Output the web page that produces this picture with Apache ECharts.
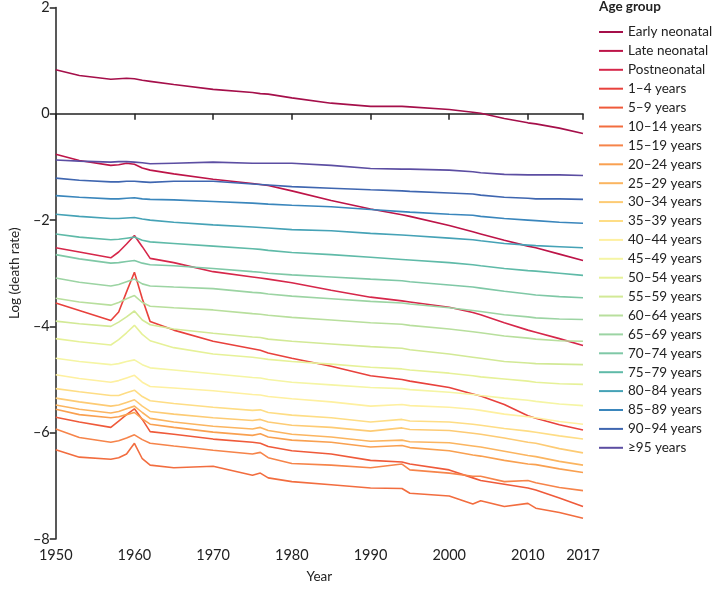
<!DOCTYPE html>
<html><head><meta charset="utf-8">
<script src="https://cdn.jsdelivr.net/npm/echarts@6/dist/echarts.min.js"></script>
<style>html,body{margin:0;padding:0;background:#fff}#c{width:714px;height:589px}</style>
</head><body><div id="c"></div>
<script>
const years = [1950,1953,1957,1958,1959,1960,1961,1962,1965,1970,1975,1976,1977,1980,1985,1990,1994,1995,2000,2003,2004,2007,2010,2011,2014,2017];
const xTickLabels = [1950,1960,1970,1980,1990,2000,2010,2017];
const yTicks = [-8,-6,-4,-2,0,2];
const ageGroups = ["Early neonatal","Late neonatal","Postneonatal","1–4 years","5–9 years","10–14 years","15–19 years","20–24 years","25–29 years","30–34 years","35–39 years","40–44 years","45–49 years","50–54 years","55–59 years","60–64 years","65–69 years","70–74 years","75–79 years","80–84 years","85–89 years","90–94 years","≥95 years"];
const colors = ["#a50f4a","#bd1448","#d6274a","#e8413c","#ef5a3a","#f26d3f","#f6844a","#f9a050","#fbb560","#fdcb74","#fedd85","#fef0a0","#f5f5a4","#e6f198","#d2e996","#b8df9d","#9cd4a3","#7fc8a6","#5fbaa8","#45a2b6","#3a86bc","#3f66b0","#5c4ea2"];

const earlyNeonatal = [0.83,0.72,0.65,0.66,0.67,0.66,0.63,0.61,0.55,0.46,0.40,0.38,0.37,0.30,0.20,0.14,0.14,0.13,0.08,0.03,0.01,-0.09,-0.17,-0.19,-0.27,-0.37];
const lateNeonatal = [-0.76,-0.88,-0.97,-0.96,-0.93,-0.95,-1.02,-1.06,-1.13,-1.23,-1.31,-1.33,-1.35,-1.45,-1.63,-1.79,-1.90,-1.93,-2.10,-2.22,-2.26,-2.38,-2.49,-2.52,-2.64,-2.76];
const postneonatal = [-2.52,-2.6,-2.71,-2.6,-2.45,-2.29,-2.5,-2.72,-2.8,-2.97,-3.07,-3.09,-3.11,-3.18,-3.32,-3.45,-3.52,-3.54,-3.64,-3.74,-3.78,-3.93,-4.07,-4.11,-4.23,-4.36];
const age1to4 = [-3.56,-3.7,-3.89,-3.73,-3.35,-2.98,-3.48,-3.91,-4.07,-4.28,-4.42,-4.45,-4.5,-4.6,-4.75,-4.93,-5.0,-5.03,-5.15,-5.27,-5.31,-5.47,-5.68,-5.73,-5.85,-5.95];
const age5to9 = [-5.71,-5.8,-5.9,-5.78,-5.66,-5.55,-5.75,-5.98,-6.03,-6.12,-6.18,-6.2,-6.26,-6.34,-6.4,-6.52,-6.55,-6.59,-6.7,-6.85,-6.9,-6.97,-7.04,-7.08,-7.23,-7.39];
const age10to14 = [-6.32,-6.46,-6.5,-6.47,-6.4,-6.2,-6.49,-6.61,-6.66,-6.63,-6.8,-6.76,-6.85,-6.92,-6.98,-7.04,-7.05,-7.14,-7.19,-7.34,-7.28,-7.39,-7.33,-7.42,-7.5,-7.61];
const age15to19 = [-5.93,-6.09,-6.18,-6.15,-6.1,-6.04,-6.13,-6.2,-6.25,-6.33,-6.4,-6.37,-6.47,-6.58,-6.61,-6.66,-6.59,-6.7,-6.76,-6.82,-6.82,-6.92,-6.9,-6.94,-7.03,-7.09];
const age20to24 = [-5.56,-5.66,-5.72,-5.7,-5.66,-5.62,-5.74,-5.84,-5.9,-5.99,-6.05,-6.02,-6.08,-6.14,-6.18,-6.27,-6.24,-6.28,-6.34,-6.42,-6.44,-6.52,-6.59,-6.6,-6.68,-6.75];
const age25to29 = [-5.48,-5.56,-5.63,-5.6,-5.55,-5.5,-5.62,-5.73,-5.8,-5.88,-5.93,-5.9,-5.96,-6.03,-6.08,-6.16,-6.14,-6.17,-6.19,-6.25,-6.27,-6.35,-6.43,-6.45,-6.54,-6.61];
const age30to34 = [-5.35,-5.42,-5.5,-5.48,-5.43,-5.38,-5.5,-5.6,-5.65,-5.72,-5.77,-5.75,-5.8,-5.86,-5.9,-5.97,-5.91,-5.94,-5.96,-6.01,-6.03,-6.1,-6.18,-6.2,-6.3,-6.38];
const age35to39 = [-5.17,-5.23,-5.3,-5.3,-5.25,-5.2,-5.32,-5.4,-5.45,-5.52,-5.58,-5.57,-5.62,-5.67,-5.72,-5.8,-5.75,-5.78,-5.8,-5.84,-5.86,-5.92,-5.97,-5.99,-6.06,-6.12];
const age40to44 = [-4.91,-4.98,-5.05,-5.02,-4.97,-4.92,-5.05,-5.13,-5.16,-5.21,-5.28,-5.29,-5.32,-5.36,-5.42,-5.5,-5.47,-5.49,-5.52,-5.56,-5.58,-5.65,-5.7,-5.72,-5.79,-5.84];
const age45to49 = [-4.6,-4.66,-4.72,-4.7,-4.66,-4.63,-4.72,-4.78,-4.82,-4.89,-4.96,-4.97,-5.0,-5.05,-5.1,-5.15,-5.17,-5.19,-5.24,-5.28,-5.3,-5.35,-5.39,-5.41,-5.46,-5.49];
const age50to54 = [-4.23,-4.29,-4.35,-4.25,-4.12,-3.98,-4.15,-4.27,-4.4,-4.52,-4.58,-4.6,-4.62,-4.66,-4.71,-4.77,-4.8,-4.82,-4.88,-4.93,-4.95,-4.99,-5.03,-5.05,-5.08,-5.09];
const age55to59 = [-3.9,-3.95,-4.0,-3.92,-3.82,-3.71,-3.88,-3.97,-4.05,-4.13,-4.2,-4.21,-4.24,-4.28,-4.33,-4.38,-4.41,-4.44,-4.52,-4.58,-4.6,-4.66,-4.69,-4.7,-4.71,-4.72];
const age60to64 = [-3.47,-3.54,-3.6,-3.55,-3.48,-3.42,-3.55,-3.62,-3.65,-3.69,-3.76,-3.77,-3.79,-3.83,-3.88,-3.93,-3.96,-3.98,-4.05,-4.1,-4.12,-4.18,-4.22,-4.24,-4.27,-4.28];
const age65to69 = [-3.09,-3.17,-3.24,-3.21,-3.16,-3.11,-3.2,-3.24,-3.26,-3.29,-3.36,-3.37,-3.39,-3.43,-3.48,-3.53,-3.56,-3.58,-3.65,-3.7,-3.72,-3.78,-3.82,-3.84,-3.86,-3.87];
const age70to74 = [-2.65,-2.73,-2.81,-2.8,-2.78,-2.76,-2.81,-2.84,-2.86,-2.91,-2.97,-2.98,-3.0,-3.03,-3.07,-3.11,-3.14,-3.16,-3.22,-3.26,-3.28,-3.34,-3.39,-3.41,-3.44,-3.46];
const age75to79 = [-2.26,-2.32,-2.37,-2.36,-2.34,-2.32,-2.38,-2.41,-2.44,-2.49,-2.54,-2.55,-2.57,-2.61,-2.65,-2.7,-2.74,-2.75,-2.8,-2.84,-2.86,-2.91,-2.95,-2.96,-3.0,-3.04];
const age80to84 = [-1.89,-1.93,-1.97,-1.97,-1.96,-1.95,-1.98,-2.0,-2.04,-2.09,-2.13,-2.14,-2.15,-2.18,-2.2,-2.25,-2.28,-2.29,-2.34,-2.37,-2.39,-2.44,-2.47,-2.48,-2.5,-2.52];
const age85to89 = [-1.54,-1.57,-1.6,-1.6,-1.59,-1.58,-1.6,-1.61,-1.62,-1.65,-1.68,-1.69,-1.7,-1.72,-1.75,-1.8,-1.84,-1.85,-1.89,-1.91,-1.93,-1.97,-2.0,-2.01,-2.04,-2.06];
const age90to94 = [-1.21,-1.25,-1.28,-1.28,-1.27,-1.27,-1.28,-1.29,-1.27,-1.27,-1.32,-1.33,-1.34,-1.37,-1.4,-1.43,-1.45,-1.46,-1.49,-1.51,-1.53,-1.57,-1.59,-1.6,-1.6,-1.61];
const age95plus = [-0.87,-0.89,-0.91,-0.9,-0.9,-0.91,-0.92,-0.94,-0.93,-0.91,-0.93,-0.93,-0.93,-0.93,-0.97,-1.03,-1.04,-1.04,-1.06,-1.09,-1.11,-1.14,-1.15,-1.15,-1.15,-1.16];

const seriesValues = [earlyNeonatal,lateNeonatal,postneonatal,age1to4,age5to9,age10to14,age15to19,age20to24,age25to29,age30to34,age35to39,age40to44,age45to49,age50to54,age55to59,age60to64,age65to69,age70to74,age75to79,age80to84,age85to89,age90to94,age95plus];

const FONT = "Lato";
const chart = echarts.init(document.getElementById('c'), null, {renderer:'canvas'});
const dash = v => String(v).replace('-', '–');
chart.setOption({
  animation:false,
  backgroundColor:'#fff',
  textStyle:{fontFamily:FONT},
  title:{text:'Age group', left:599, top:0, padding:0, textStyle:{fontFamily:FONT,fontSize:13.5,fontWeight:'bold',color:'#222'}},
  legend:{
    orient:'vertical', left:599, top:25, padding:0, itemWidth:24, itemHeight:2, itemGap:4.9,
    icon:'rect',
    textStyle:{fontFamily:FONT,fontSize:13.5,color:'#222',lineHeight:14},
    data: ageGroups
  },
  grid:{left:52, right:131, top:5, bottom:46, containLabel:false},
  xAxis:{
    type:'value', min:1950, max:2017, interval:10,
    name:'Year', nameLocation:'middle', nameGap:31,
    nameTextStyle:{fontFamily:FONT,fontSize:13.5,color:'#222'},
    axisLine:{show:true,lineStyle:{color:'#222',width:1.5}},
    axisTick:{show:true,length:6,lineStyle:{color:'#222',width:1.5},customValues:xTickLabels},
    axisLabel:{fontFamily:FONT,fontSize:14.5,color:'#222',margin:9,customValues:xTickLabels,formatter:v=>String(v)},
    splitLine:{show:false}
  },
  yAxis:{
    type:'value', min:-8, max:2, interval:2,
    name:'Log (death rate)', nameLocation:'middle', nameGap:32, nameRotate:90,
    nameTextStyle:{fontFamily:FONT,fontSize:13.5,color:'#222'},
    axisLine:{show:true,lineStyle:{color:'#222',width:1.5}},
    axisTick:{show:true,length:6,lineStyle:{color:'#222',width:1.5}},
    axisLabel:{fontFamily:FONT,fontSize:14.5,color:'#222',margin:6,formatter:v=>dash(v)},
    splitLine:{show:false}
  },
  series: ageGroups.map((name,i)=>({
    name, type:'line', showSymbol:false, symbol:'none',
    lineStyle:{width:1.6,color:colors[i]}, itemStyle:{color:colors[i]},
    data: years.map((y,j)=>[y, seriesValues[i][j]]),
    z: 2
  }))
});
</script></body></html>
